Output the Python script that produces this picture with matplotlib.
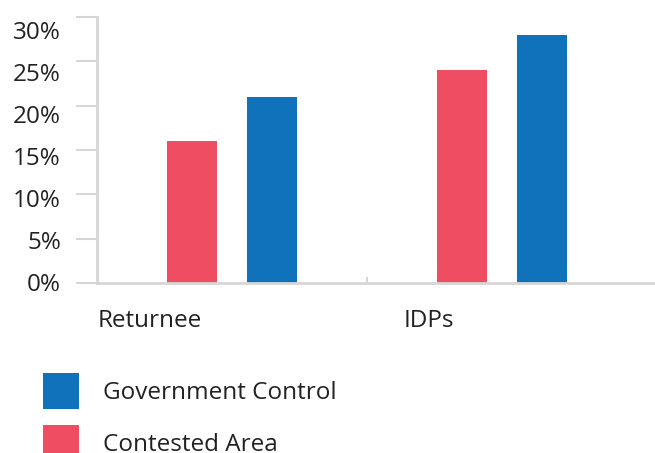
import numpy as np
import matplotlib
matplotlib.use("Agg")
import matplotlib.pyplot as plt
from matplotlib.patches import Patch
from matplotlib.transforms import ScaledTranslation

categories = ["Returnee", "IDPs"]
contested = [16, 24]
government = [21, 28]
yticks = [0, 5, 10, 15, 20, 25, 30]
ytick_labels = ["0%", "5%", "10%", "15%", "20%", "25%", "30%"]

red = "#EF4D62"
blue = "#1172BC"
grey = "#D6D6D6"
fs = 17.5

plt.rcParams['font.family'] = ['Open Sans', 'DejaVu Sans']

fig = plt.figure(figsize=(6.55, 4.53), dpi=100)
ax = fig.add_axes([97/655, (453-283)/453, 1 - 97/655, (283-17)/453])

x = np.arange(len(categories))
w = 0.185
ax.bar(x - 0.148, contested, width=w, color=red)
ax.bar(x + 0.148, government, width=w, color=blue)

ax.set_xlim(-0.5, -0.5 + 558/270)
ax.set_ylim(0, 30)

for s in ["top", "right"]:
    ax.spines[s].set_visible(False)
for s in ["left", "bottom"]:
    ax.spines[s].set_color(grey)
    ax.spines[s].set_linewidth(2)

ax.set_yticks(yticks)
ax.set_yticklabels(ytick_labels, fontsize=fs, color="#222222")
ax.tick_params(axis="y", length=15, width=1.5, color=grey, pad=11)
# labels are spaced a little tighter than the ticks in the original
for v, lab in zip(yticks, ax.get_yticklabels()):
    dy = (1 - v * 14 / 30) / 100
    lab.set_transform(lab.get_transform() + ScaledTranslation(0, dy, fig.dpi_scale_trans))

ax.set_xticks(x)
ax.set_xticklabels(categories, fontsize=fs, color="#222222", ha="left")
ax.tick_params(axis="x", length=0, pad=19)
offsets = [-134, -98]
for dx, lab in zip(offsets, ax.get_xticklabels()):
    lab.set_transform(lab.get_transform() + ScaledTranslation(dx / 100, 0, fig.dpi_scale_trans))

# small divider tick between the two groups
ax.set_xticks([0.5], minor=True)
ax.tick_params(axis="x", which="minor", direction="in", length=4, width=1.5, color=grey)

handles = [Patch(facecolor=blue), Patch(facecolor=red)]
fpx = fs * 100 / 72
hh = (36 / fpx - 0.245) / 0.65
fig.legend(handles, ["Government Control", "Contested Area"],
           loc="upper left", bbox_to_anchor=(43/655, 1 - 373/453),
           frameon=False, fontsize=fs, handlelength=36/fpx, handleheight=hh,
           handletextpad=24/fpx, labelspacing=16/fpx, borderpad=0, borderaxespad=0,
           labelcolor="#222222")

fig.savefig("out.png", dpi=100)
